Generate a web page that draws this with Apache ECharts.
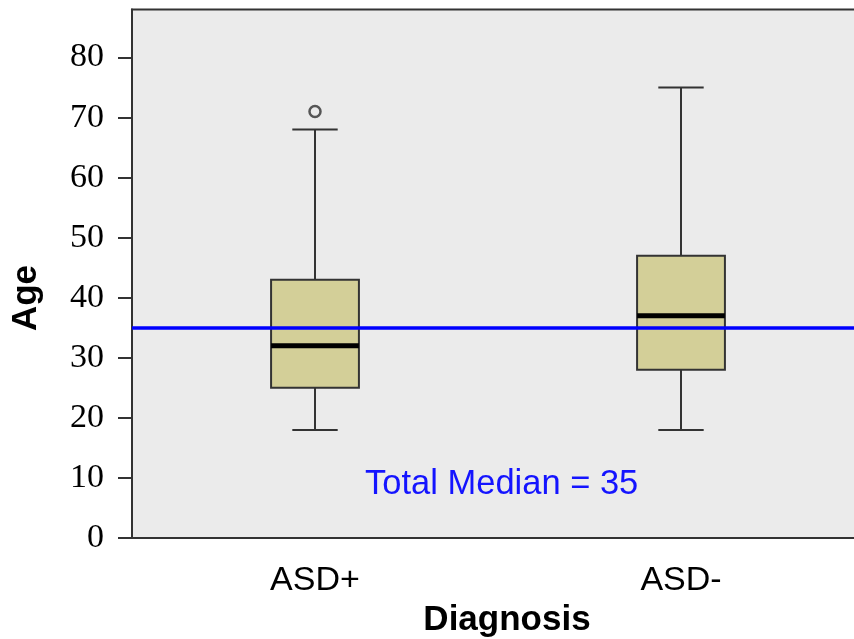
<!DOCTYPE html>
<html>
<head>
<meta charset="utf-8">
<script src="https://cdn.jsdelivr.net/npm/echarts@6/dist/echarts.min.js"></script>
<style>
  html, body { margin: 0; padding: 0; background: #ffffff; }
  #chart { width: 854px; height: 639px; }
</style>
</head>
<body>
<div id="chart"></div>
<script>
// Age by diagnosis group: five-number summaries per group
const categories = ['ASD+', 'ASD-'];
const whiskerLow = [18, 18];
const quartile1 = [25, 28];
const medians = [32, 37];
const quartile3 = [43, 47];
const whiskerHigh = [68, 75];
const outlierGroups = ['ASD+'];
const outlierValues = [71];
const totalMedian = 35;
const yTicks = [0, 10, 20, 30, 40, 50, 60, 70, 80];

const boxData = categories.map((c, i) => [i, whiskerLow[i], quartile1[i], medians[i], quartile3[i], whiskerHigh[i]]);
const outlierData = outlierGroups.map((g, i) => [categories.indexOf(g), outlierValues[i]]);

const chart = echarts.init(document.getElementById('chart'), null, { renderer: 'canvas' });

function renderBox(params, api) {
  const x = api.value(0);
  const pLo = api.coord([x, api.value(1)]);
  const pQ1 = api.coord([x, api.value(2)]);
  const pMed = api.coord([x, api.value(3)]);
  const pQ3 = api.coord([x, api.value(4)]);
  const pHi = api.coord([x, api.value(5)]);
  const band = api.size([1, 0])[0];
  const bw = band * 0.24;
  const cw = band * 0.124;
  const cx = pMed[0];
  const stroke = { stroke: '#333333', lineWidth: 2, fill: null };
  return {
    type: 'group',
    children: [
      { type: 'line', shape: { x1: cx, y1: pQ1[1], x2: cx, y2: pLo[1] }, style: stroke },
      { type: 'line', shape: { x1: cx, y1: pQ3[1], x2: cx, y2: pHi[1] }, style: stroke },
      { type: 'line', shape: { x1: cx - cw / 2, y1: pLo[1], x2: cx + cw / 2, y2: pLo[1] }, style: stroke },
      { type: 'line', shape: { x1: cx - cw / 2, y1: pHi[1], x2: cx + cw / 2, y2: pHi[1] }, style: stroke },
      {
        type: 'rect',
        shape: { x: cx - bw / 2, y: pQ3[1], width: bw, height: pQ1[1] - pQ3[1] },
        style: { fill: '#d3cf98', stroke: '#333333', lineWidth: 2 }
      },
      { type: 'line', shape: { x1: cx - bw / 2, y1: pMed[1], x2: cx + bw / 2, y2: pMed[1] }, style: { stroke: '#000000', lineWidth: 5 } }
    ]
  };
}

const option = {
  animation: false,
  backgroundColor: '#ffffff',
  grid: {
    left: 132,
    top: 9.5,
    width: 732,
    bottom: 101,
    outerBoundsMode: 'none',
    containLabel: false,
    show: true,
    backgroundColor: '#ebebeb',
    borderColor: '#333333',
    borderWidth: 2
  },
  xAxis: {
    type: 'category',
    data: categories,
    boundaryGap: true,
    name: 'Diagnosis',
    nameLocation: 'middle',
    nameGap: 61,
    nameTextStyle: { fontFamily: 'Liberation Sans', fontSize: 35, fontWeight: 'bold', color: '#000000', padding: [0, 0, 0, 18] },
    axisLine: { lineStyle: { color: '#333333', width: 2 } },
    axisTick: { alignWithLabel: true, length: 9, lineStyle: { color: '#333333', width: 2 } },
    axisLabel: { margin: 26, fontFamily: 'Liberation Sans', fontSize: 34, color: '#000000' },
    splitLine: { show: false }
  },
  yAxis: {
    type: 'value',
    min: 0,
    max: 88,
    interval: 10,
    axisLine: { show: true, lineStyle: { color: '#333333', width: 2 } },
    axisTick: { show: true, length: 14, customValues: yTicks, lineStyle: { color: '#333333', width: 2 } },
    axisLabel: { margin: 28, customValues: yTicks, fontFamily: 'Liberation Serif', fontSize: 34, color: '#000000' },
    splitLine: { show: false }
  },
  series: [
    {
      type: 'custom',
      name: 'Age',
      data: boxData,
      encode: { x: 0, y: [1, 2, 3, 4, 5] },
      renderItem: renderBox,
      z: 2
    },
    {
      type: 'scatter',
      name: 'Outliers',
      data: outlierData,
      symbol: 'circle',
      symbolSize: 11,
      itemStyle: { color: '#ebebeb', borderColor: '#555555', borderWidth: 2.5, opacity: 1 },
      z: 3,
      markLine: {
        silent: true,
        symbol: ['none', 'none'],
        label: { show: false },
        lineStyle: { color: '#0000ff', width: 3.5, type: 'solid' },
        data: [{ yAxis: totalMedian }],
        z: 4
      }
    }
  ],
  graphic: [
    {
      type: 'text',
      x: 26,
      y: 298,
      rotation: Math.PI / 2,
      z: 10,
      style: {
        text: 'Age',
        fill: '#000000',
        font: 'bold 35px "Liberation Sans"',
        align: 'center',
        verticalAlign: 'middle'
      }
    },
    {
      type: 'text',
      left: 365,
      top: 467,
      z: 10,
      style: {
        text: 'Total Median = ' + totalMedian,
        fill: '#1414ff',
        font: '34.5px "Liberation Sans"'
      }
    }
  ]
};

chart.setOption(option);
</script>
</body>
</html>
